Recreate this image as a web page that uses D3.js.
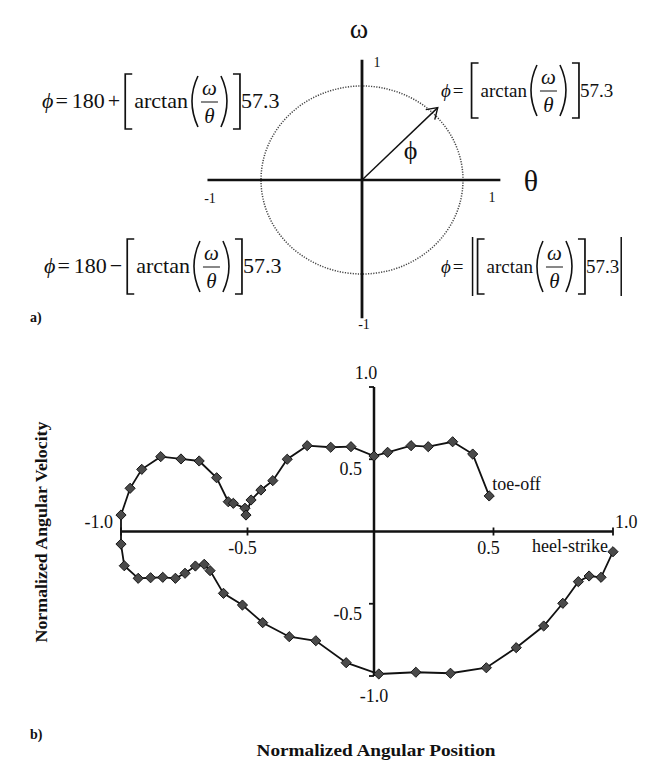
<!DOCTYPE html>
<html lang="en">
<head>
<meta charset="UTF-8">
<title>Phase angle and phase portrait</title>
<script src="https://d3js.org/d3.v7.min.js"></script>
<style>
  body { margin: 0; background: #fff; }
  svg { display: block; }
  text { font-family: "Liberation Serif", "Times New Roman", serif; fill: #111; }
</style>
</head>
<body>
<script>
// ---- data: phase portrait (normalized angular position vs velocity), heel-strike -> toe-off
const position = [
  1.00, 0.95, 0.90, 0.855, 0.79, 0.71, 0.595, 0.47, 0.32, 0.175, 0.02,
  -0.11, -0.23, -0.335, -0.44, -0.52, -0.595, -0.648, -0.671, -0.706, -0.747,
  -0.785, -0.835, -0.883, -0.932, -0.987, -1.00,
  -1.00, -0.964, -0.918, -0.843, -0.763, -0.691, -0.622, -0.576, -0.556, -0.51,
  -0.506, -0.486, -0.447, -0.40, -0.343, -0.264, -0.171, -0.091, 0.0,
  0.057, 0.155, 0.227, 0.329, 0.413, 0.482
];
const velocity = [
  -0.14, -0.317, -0.308, -0.347, -0.497, -0.654, -0.804, -0.943, -0.981, -0.974, -0.986,
  -0.908, -0.756, -0.728, -0.631, -0.509, -0.428, -0.271, -0.227, -0.239, -0.289,
  -0.324, -0.317, -0.32, -0.324, -0.237, -0.087,
  0.114, 0.299, 0.43, 0.518, 0.502, 0.488, 0.372, 0.206, 0.195, 0.161,
  0.114, 0.218, 0.287, 0.352, 0.50, 0.594, 0.583, 0.587, 0.522,
  0.548, 0.594, 0.587, 0.621, 0.536, 0.246
];
const xTicks = [-1, -0.5, 0.5, 1];
const yTicks = [-1, -0.5, 0.5, 1];
const tickLabel = d => d3.format(".1f")(d).replace("−", "-");

const W = 653, H = 771;
const svg = d3.select("body").append("svg")
  .attr("width", W).attr("height", H)
  .attr("viewBox", [0, 0, W, H]);

// ================= a) unit circle =================
const ax = d3.scaleLinear().domain([-1, 1]).range([261, 463]);
const ay = d3.scaleLinear().domain([-1, 1]).range([274, 86]);
const ga = svg.append("g");

ga.append("ellipse")
  .attr("cx", ax(0)).attr("cy", ay(0))
  .attr("rx", ax(1) - ax(0)).attr("ry", ay(0) - ay(1))
  .attr("fill", "none").attr("stroke", "#444")
  .attr("stroke-width", 1.5).attr("stroke-dasharray", "1.2,1.4");

ga.append("line")
  .attr("x1", ax(-1.53)).attr("x2", ax(1.37))
  .attr("y1", ay(0)).attr("y2", ay(0))
  .attr("stroke", "#111").attr("stroke-width", 2.6);
ga.append("line")
  .attr("x1", ax(0)).attr("x2", ax(0))
  .attr("y1", ay(1.28)).attr("y2", ay(-1.47))
  .attr("stroke", "#111").attr("stroke-width", 2.8);

// arrow
const tip = [0.75, 0.77];
ga.append("line")
  .attr("x1", ax(0)).attr("y1", ay(0))
  .attr("x2", ax(tip[0])).attr("y2", ay(tip[1]))
  .attr("stroke", "#111").attr("stroke-width", 1.4);
ga.append("path")
  .attr("d", `M${ax(tip[0]) - 12},${ay(tip[1]) + 2} L${ax(tip[0])},${ay(tip[1])} L${ax(tip[0]) - 3},${ay(tip[1]) + 12}`)
  .attr("fill", "none").attr("stroke", "#111").attr("stroke-width", 1.4);

ga.append("text").attr("x", ax(0.48)).attr("y", ay(0.22)).attr("text-anchor", "middle")
  .style("font-size", "26px").text("ϕ");
ga.append("text").attr("x", ax(-0.03)).attr("y", 38).attr("text-anchor", "middle")
  .style("font-size", "28px").text("ω");
ga.append("text").attr("x", 531).attr("y", ay(0) + 11).attr("text-anchor", "middle")
  .style("font-size", "30px").text("θ");

// small axis labels
const small = [
  {t: "1", x: ax(0) + 15, y: 67},
  {t: "-1", x: ax(0) + 2, y: 329},
  {t: "-1", x: 210, y: ay(0) + 23},
  {t: "1", x: 492, y: ay(0) + 22}
];
ga.selectAll(".small").data(small).join("text")
  .attr("x", d => d.x).attr("y", d => d.y).attr("text-anchor", "middle")
  .style("font-size", "14px").text(d => d.t);

// formulas
function formula(x, yc, prefix, abs, size) {
  const g = ga.append("g");
  let cx = x;
  const base = yc + 7;
  const word = (txt, gap, italic) => {
    const t = g.append("text").attr("x", cx).attr("y", base)
      .style("font-size", size + "px").style("font-style", italic ? "italic" : null).text(txt);
    cx += t.node().getComputedTextLength() + gap;
  };
  const bar = (after) => {
    g.append("line").attr("x1", cx + 1).attr("x2", cx + 1)
      .attr("y1", yc - 29).attr("y2", yc + 30).attr("stroke", "#111").attr("stroke-width", 1.5);
    cx += after;
  };
  word("ϕ", 2, true);
  word("=", prefix ? 4 : 8);
  if (prefix) { word(prefix[0], 3); word(prefix[1], 5); }
  if (abs) bar(6);
  // left bracket
  g.append("path").attr("d", `M${cx + 7},${yc - 27} H${cx} V${yc + 28} H${cx + 7}`)
    .attr("fill", "none").attr("stroke", "#111").attr("stroke-width", 1.7);
  cx += 9;
  word("arctan", 0);
  // left paren
  g.append("path").attr("d", `M${cx + 10},${yc - 25} Q${cx - 2},${yc} ${cx + 10},${yc + 26}`)
    .attr("fill", "none").attr("stroke", "#111").attr("stroke-width", 1.6);
  cx += 13;
  const fw = 17;
  g.append("text").attr("x", cx + fw / 2).attr("y", yc - 6).attr("text-anchor", "middle")
    .style("font-size", "21px").style("font-style", "italic").text("ω");
  g.append("line").attr("x1", cx).attr("x2", cx + fw).attr("y1", yc + 1).attr("y2", yc + 1)
    .attr("stroke", "#111").attr("stroke-width", 1);
  g.append("text").attr("x", cx + fw / 2).attr("y", yc + 22).attr("text-anchor", "middle")
    .style("font-size", "21px").style("font-style", "italic").text("θ");
  cx += fw + 3;
  // right paren
  g.append("path").attr("d", `M${cx},${yc - 25} Q${cx + 12},${yc} ${cx},${yc + 26}`)
    .attr("fill", "none").attr("stroke", "#111").attr("stroke-width", 1.6);
  cx += 12;
  // right bracket
  g.append("path").attr("d", `M${cx},${yc - 27} H${cx + 7} V${yc + 28} H${cx}`)
    .attr("fill", "none").attr("stroke", "#111").attr("stroke-width", 1.7);
  cx += 8;
  word("57.3", 1);
  if (abs) bar(0);
}
formula(42, 101, ["180", "+"], false, 22);
formula(44, 266, ["180", "−"], false, 22);
formula(441, 90, null, false, 19);
formula(441, 266, null, true, 19);

svg.append("text").attr("x", 30).attr("y", 322)
  .style("font-size", "14px").style("font-weight", "bold").text("a)");

// ================= b) phase portrait =================
const x = d3.scaleLinear().domain([-1, 0, 1]).range([121, 374, 613]);
const y = d3.scaleLinear().domain([-1, 1]).range([676, 387]);
const gb = svg.append("g");

// axes
gb.append("line").attr("x1", x(-1)).attr("x2", x(1)).attr("y1", y(0)).attr("y2", y(0))
  .attr("stroke", "#111").attr("stroke-width", 2.5);
gb.append("line").attr("x1", x(0)).attr("x2", x(0)).attr("y1", y(1)).attr("y2", y(-1))
  .attr("stroke", "#111").attr("stroke-width", 2.5);
gb.selectAll(".xt").data(xTicks).join("line")
  .attr("x1", d => x(d)).attr("x2", d => x(d))
  .attr("y1", y(0) - 4).attr("y2", y(0) + 4)
  .attr("stroke", "#111").attr("stroke-width", 1.8);
gb.selectAll(".yt").data(yTicks).join("line")
  .attr("x1", x(0) - 5).attr("x2", x(0))
  .attr("y1", d => y(d)).attr("y2", d => y(d))
  .attr("stroke", "#111").attr("stroke-width", 1.8);

// tick labels
const fs = "18px";
gb.selectAll(".xl").data(xTicks).join("text")
  .attr("x", d => Math.abs(d) === 1 ? x(d) + (d < 0 ? -8 : 2) : x(d) - 5)
  .attr("y", d => Math.abs(d) === 1 ? y(0) - 4 : y(0) + 22)
  .attr("text-anchor", d => d === -1 ? "end" : d === 1 ? "start" : "middle")
  .style("font-size", fs).text(d => tickLabel(d));
gb.selectAll(".yl").data(yTicks).join("text")
  .attr("x", d => Math.abs(d) === 1 ? x(0) + (d > 0 ? -8 : 0) : x(0) - 12)
  .attr("y", d => d === 1 ? y(d) - 8 : d === -1 ? y(d) + 26 : y(d) + 16)
  .attr("text-anchor", d => Math.abs(d) === 1 ? "middle" : "end")
  .style("font-size", fs).text(d => tickLabel(d));

// trajectory
const pts = position.map((p, i) => [p, velocity[i]]);
gb.append("path").datum(pts)
  .attr("d", d3.line().x(d => x(d[0])).y(d => y(d[1])))
  .attr("fill", "none").attr("stroke", "#111").attr("stroke-width", 1.8);
gb.selectAll(".pt").data(pts).join("path")
  .attr("d", d3.symbol(d3.symbolSquare, 52))
  .attr("transform", d => `translate(${x(d[0])},${y(d[1])}) rotate(45)`)
  .attr("fill", "#4a4a4a").attr("stroke", "#111").attr("stroke-width", 0.9);

// annotations
const last = pts[pts.length - 1];
gb.append("text").attr("x", x(last[0]) + 3).attr("y", y(last[1]) - 6)
  .style("font-size", fs).text("toe-off");
gb.append("text").attr("x", x(pts[0][0]) - 5).attr("y", y(0) + 20).attr("text-anchor", "end")
  .style("font-size", fs).text("heel-strike");

// axis titles
svg.append("text").attr("transform", `translate(47,532) rotate(-90)`).attr("text-anchor", "middle")
  .attr("textLength", 221).attr("lengthAdjust", "spacingAndGlyphs")
  .style("font-size", "16px").style("font-weight", "bold").text("Normalized Angular Velocity");
svg.append("text").attr("x", 376).attr("y", 756).attr("text-anchor", "middle")
  .attr("textLength", 239).attr("lengthAdjust", "spacingAndGlyphs")
  .style("font-size", "17px").style("font-weight", "bold").text("Normalized Angular Position");
svg.append("text").attr("x", 30).attr("y", 739)
  .style("font-size", "14px").style("font-weight", "bold").text("b)");
</script>
</body>
</html>
